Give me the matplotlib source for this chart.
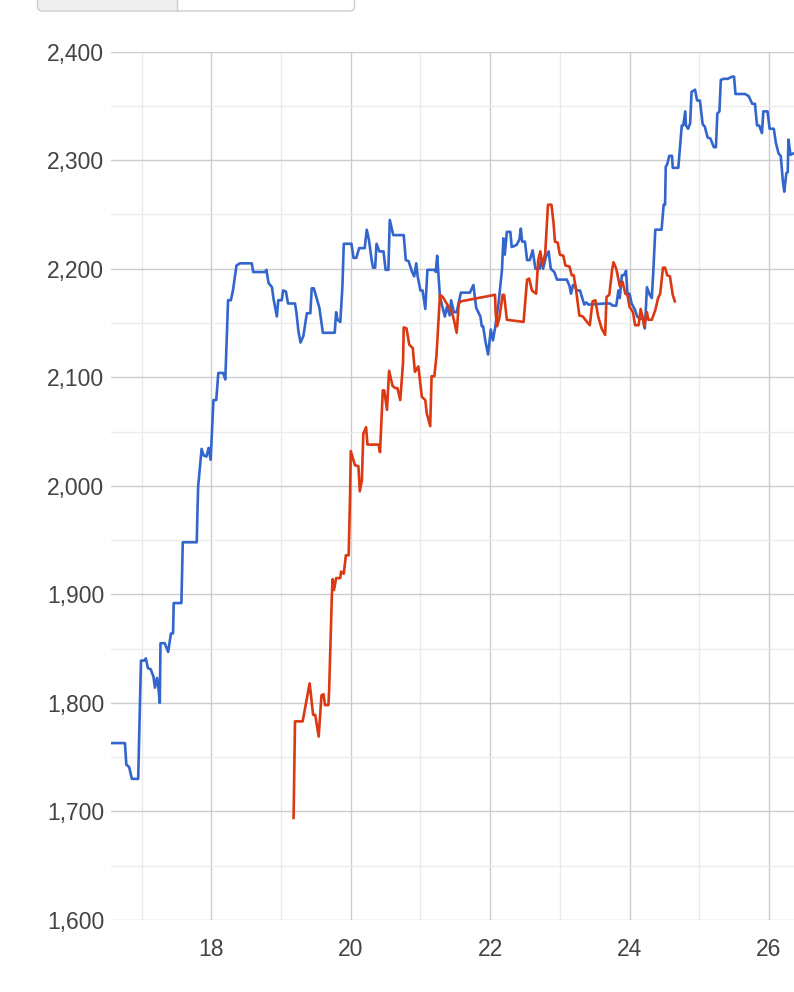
import matplotlib
matplotlib.use("Agg")
import matplotlib.pyplot as plt
from matplotlib.patches import FancyBboxPatch, Rectangle
from matplotlib.ticker import FuncFormatter, MultipleLocator

# blue series (x, value)
blue_x = [16.50, 16.76, 16.78, 16.82, 16.86, 16.95, 16.99, 17.04, 17.06, 17.09,
          17.13, 17.17, 17.19, 17.22, 17.24, 17.26, 17.27, 17.33, 17.38, 17.42,
          17.45, 17.46, 17.57, 17.59, 17.79, 17.81, 17.86, 17.89, 17.93, 17.96,
          17.99, 18.03, 18.07, 18.10, 18.17, 18.20, 18.22, 18.24, 18.28, 18.31,
          18.36, 18.41, 18.58, 18.60, 18.77, 18.79, 18.82, 18.87, 18.89, 18.94,
          18.96, 19.01, 19.03, 19.07, 19.10, 19.20, 19.22, 19.25, 19.28, 19.32,
          19.37, 19.42, 19.44, 19.47, 19.51, 19.55, 19.60, 19.77, 19.79, 19.81,
          19.85, 19.88, 19.90, 20.01, 20.04, 20.08, 20.12, 20.20, 20.23, 20.26,
          20.30, 20.32, 20.35, 20.37, 20.41, 20.47, 20.50, 20.54, 20.56, 20.61,
          20.76, 20.79, 20.83, 20.88, 20.91, 20.94, 20.96, 21.00, 21.03, 21.07,
          21.10, 21.20, 21.22, 21.24, 21.28, 21.35, 21.38, 21.42, 21.44, 21.48,
          21.52, 21.58, 21.71, 21.76, 21.80, 21.86, 21.88, 21.90, 21.93, 21.97,
          22.01, 22.04, 22.07, 22.12, 22.17, 22.19, 22.21, 22.24, 22.29, 22.31,
          22.38, 22.42, 22.44, 22.46, 22.50, 22.53, 22.57, 22.61, 22.65, 22.71,
          22.73, 22.76, 22.80, 22.84, 22.87, 22.92, 22.96, 23.10, 23.14, 23.16,
          23.19, 23.22, 23.24, 23.29, 23.35, 23.38, 23.41, 23.65, 23.72, 23.76,
          23.81, 23.84, 23.86, 23.89, 23.92, 23.95, 23.97, 24.00, 24.03, 24.08,
          24.11, 24.15, 24.19, 24.22, 24.25, 24.29, 24.32, 24.34, 24.37, 24.46,
          24.49, 24.51, 24.52, 24.54, 24.57, 24.61, 24.62, 24.70, 24.75, 24.77,
          24.80, 24.81, 24.84, 24.87, 24.89, 24.94, 24.97, 25.01, 25.05, 25.08,
          25.12, 25.16, 25.21, 25.24, 25.26, 25.29, 25.31, 25.35, 25.41, 25.47,
          25.50, 25.52, 25.66, 25.71, 25.76, 25.80, 25.83, 25.86, 25.90, 25.92,
          25.98, 26.01, 26.07, 26.10, 26.14, 26.17, 26.20, 26.22, 26.25, 26.27,
          26.28, 26.31, 26.34, 26.40]
blue_y = [1763, 1763, 1743, 1741, 1730, 1730, 1839, 1839, 1841, 1832,
          1831, 1824, 1814, 1823, 1814, 1800, 1855, 1855, 1847, 1864,
          1864, 1892, 1892, 1948, 1948, 1999, 2034, 2028, 2027, 2035,
          2024, 2079, 2079, 2104, 2104, 2098, 2134, 2171, 2171, 2180,
          2203, 2205, 2205, 2197, 2197, 2199, 2187, 2183, 2173, 2156,
          2171, 2171, 2180, 2179, 2168, 2168, 2160, 2142, 2132, 2138,
          2159, 2159, 2182, 2182, 2173, 2164, 2141, 2141, 2160, 2153,
          2151, 2183, 2223, 2223, 2210, 2210, 2219, 2219, 2236, 2227,
          2208, 2201, 2201, 2223, 2216, 2216, 2199, 2199, 2245, 2231,
          2231, 2208, 2207, 2197, 2193, 2205, 2193, 2180, 2180, 2163,
          2199, 2199, 2197, 2212, 2174, 2156, 2165, 2157, 2171, 2160,
          2160, 2178, 2178, 2185, 2164, 2156, 2147, 2147, 2134, 2121,
          2144, 2134, 2145, 2168, 2199, 2228, 2213, 2234, 2234, 2220,
          2222, 2227, 2237, 2225, 2225, 2208, 2208, 2217, 2200, 2200,
          2208, 2200, 2211, 2216, 2200, 2197, 2190, 2190, 2184, 2177,
          2185, 2185, 2180, 2180, 2167, 2169, 2167, 2168, 2168, 2166,
          2166, 2180, 2173, 2194, 2194, 2198, 2177, 2177, 2168, 2162,
          2156, 2154, 2154, 2145, 2183, 2176, 2173, 2196, 2236, 2236,
          2259, 2259, 2294, 2296, 2304, 2304, 2293, 2293, 2332, 2332,
          2345, 2332, 2329, 2334, 2363, 2365, 2355, 2355, 2333, 2331,
          2321, 2320, 2312, 2312, 2343, 2345, 2374, 2375, 2375, 2377,
          2377, 2361, 2361, 2359, 2352, 2352, 2332, 2332, 2325, 2345,
          2345, 2329, 2329, 2316, 2306, 2304, 2281, 2271, 2288, 2289,
          2319, 2305, 2306, 2307]

# red series (x, value)
red_x = [19.18, 19.20, 19.31, 19.41, 19.46, 19.49, 19.54, 19.58, 19.61, 19.63,
         19.68, 19.69, 19.73, 19.74, 19.76, 19.79, 19.85, 19.86, 19.90, 19.93,
         19.97, 19.99, 20.00, 20.06, 20.11, 20.13, 20.16, 20.18, 20.22, 20.24,
         20.40, 20.42, 20.46, 20.48, 20.52, 20.55, 20.60, 20.64, 20.67, 20.71,
         20.75, 20.76, 20.80, 20.84, 20.89, 20.92, 20.97, 20.99, 21.02, 21.07,
         21.09, 21.14, 21.16, 21.20, 21.23, 21.28, 21.32, 21.45, 21.48, 21.52,
         21.55, 21.58, 22.07, 22.08, 22.10, 22.13, 22.18, 22.20, 22.24, 22.48,
         22.53, 22.56, 22.60, 22.66, 22.69, 22.72, 22.75, 22.79, 22.81, 22.83,
         22.88, 22.91, 22.93, 22.97, 23.00, 23.05, 23.08, 23.14, 23.17, 23.20,
         23.24, 23.28, 23.33, 23.39, 23.43, 23.47, 23.51, 23.55, 23.60, 23.65,
         23.67, 23.71, 23.75, 23.77, 23.81, 23.86, 23.90, 23.94, 23.97, 24.00,
         24.05, 24.08, 24.13, 24.16, 24.19, 24.21, 24.25, 24.27, 24.32, 24.37,
         24.41, 24.44, 24.48, 24.51, 24.54, 24.58, 24.62, 24.65]
red_y = [1694, 1783, 1783, 1818, 1789, 1789, 1769, 1807, 1808, 1798,
         1798, 1812, 1901, 1914, 1904, 1915, 1915, 1921, 1919, 1936,
         1936, 1990, 2032, 2019, 2018, 1995, 2005, 2048, 2054, 2038,
         2038, 2031, 2088, 2088, 2070, 2106, 2092, 2090, 2090, 2079,
         2113, 2146, 2145, 2130, 2127, 2105, 2110, 2099, 2082, 2079,
         2067, 2055, 2101, 2101, 2120, 2176, 2174, 2160, 2153, 2141,
         2168, 2170, 2176, 2159, 2147, 2154, 2176, 2176, 2153, 2151,
         2190, 2191, 2180, 2177, 2208, 2216, 2203, 2214, 2236, 2259,
         2259, 2242, 2225, 2224, 2213, 2212, 2203, 2202, 2194, 2194,
         2177, 2157, 2156, 2151, 2148, 2170, 2171, 2156, 2145, 2139,
         2174, 2176, 2199, 2206, 2200, 2184, 2188, 2177, 2176, 2165,
         2160, 2148, 2148, 2163, 2155, 2147, 2160, 2153, 2153, 2162,
         2173, 2177, 2201, 2201, 2194, 2193, 2176, 2170]

x_ticks = [18, 20, 22, 24, 26]
y_ticks = [1600, 1700, 1800, 1900, 2000, 2100, 2200, 2300, 2400]

plt.rcParams['font.family'] = ['Liberation Sans', 'DejaVu Sans']

fig = plt.figure(figsize=(7.94, 9.92), dpi=100)
ax = fig.add_axes([0.1398, 0.0726, 0.8602, 0.8753])

ax.plot(blue_x, blue_y, color='#3366cc', lw=1.9, zorder=3)
ax.plot(red_x, red_y, color='#dc3912', lw=1.9, zorder=4)

ax.set_xlim(16.56, 26.36)
ax.set_ylim(1600, 2400)
ax.set_xticks(x_ticks)
ax.set_yticks(y_ticks)
ax.xaxis.set_minor_locator(MultipleLocator(1))
ax.yaxis.set_minor_locator(MultipleLocator(50))
ax.yaxis.set_major_formatter(FuncFormatter(lambda v, p: f'{int(v):,}'))

ax.grid(which='major', color='#cccccc', lw=1.0, zorder=0)
ax.grid(which='minor', color='#ebebeb', lw=1.0, zorder=0)
ax.set_axisbelow(True)
for s in ax.spines.values():
    s.set_visible(False)
ax.tick_params(which='both', length=0)
ax.tick_params(axis='y', labelsize=16.5, labelcolor='#444444', pad=5)
ax.tick_params(axis='x', labelsize=16.5, labelcolor='#444444', pad=13)

# partial button bar at the top
top = fig.add_axes([0, 0, 1, 1], zorder=-1)
top.set_xlim(0, 794)
top.set_ylim(992, 0)
top.axis('off')
top.add_patch(Rectangle((38, -20), 139, 30, facecolor='#efefef', edgecolor='none'))
top.add_patch(FancyBboxPatch((37.5, -20), 317, 31, boxstyle='round,pad=0,rounding_size=5',
                             facecolor='none', edgecolor='#cccccc', lw=1))
top.plot([177, 177], [0, 11], color='#cccccc', lw=1)

fig.savefig('out.png', dpi=100)
